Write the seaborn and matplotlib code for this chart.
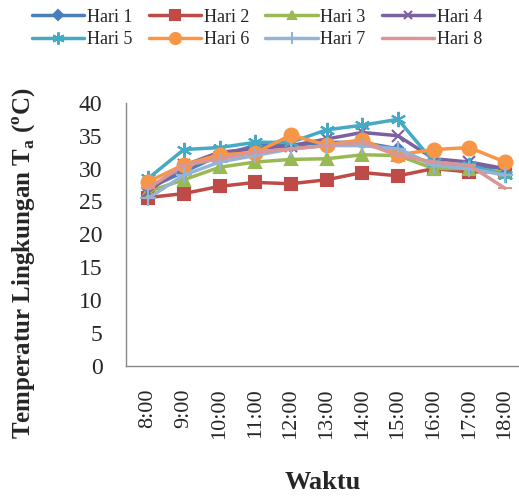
import matplotlib
matplotlib.use("Agg")
import matplotlib.pyplot as plt
import seaborn as sns
import pandas as pd

times = ["8:00", "9:00", "10:00", "11:00", "12:00", "13:00", "14:00", "15:00", "16:00", "17:00", "18:00"]
hari1 = [27.0, 29.5, 32.0, 33.5, 33.5, 34.0, 34.0, 33.0, 30.5, 30.5, 30.0]
hari2 = [25.6, 26.2, 27.3, 27.9, 27.7, 28.3, 29.4, 28.9, 30.0, 29.5, 29.5]
hari3 = [26.5, 28.3, 30.2, 31.0, 31.4, 31.5, 32.1, 32.0, 30.0, 30.0, 29.5]
hari4 = [26.5, 30.5, 32.5, 33.0, 33.5, 34.5, 35.5, 35.0, 31.5, 31.0, 30.0]
hari5 = [28.5, 32.9, 33.2, 34.0, 34.0, 35.9, 36.6, 37.5, 31.0, 30.5, 29.0]
hari6 = [28.0, 30.6, 32.1, 32.4, 35.1, 33.6, 34.4, 32.1, 32.9, 33.2, 31.0]
hari7 = [25.5, 29.0, 31.0, 32.0, 33.0, 33.5, 33.5, 33.0, 30.5, 30.0, 29.0]
hari8 = [27.0, 30.5, 31.5, 32.5, 33.0, 33.5, 34.0, 32.0, 31.0, 30.5, 27.0]
series_names = ["Hari 1", "Hari 2", "Hari 3", "Hari 4", "Hari 5", "Hari 6", "Hari 7", "Hari 8"]
series_vals = [hari1, hari2, hari3, hari4, hari5, hari6, hari7, hari8]

colors = ["#4A7EBB", "#BE4B48", "#98B954", "#7D60A0", "#46AAC5", "#F79646", "#95B3D7", "#D99694"]
markers = ["D", "s", "^", "x", (6, 2, 0), "o", "+", "_"]
msizes = [6, 9, 8, 8, 11, 10, 11, 10]

rows = []
for name, vals in zip(series_names, series_vals):
    for i, v in enumerate(vals):
        rows.append({"Hari": name, "idx": i, "T": v})
df = pd.DataFrame(rows)

sns.set_style("white")
plt.rcParams["font.family"] = ["Liberation Serif", "DejaVu Serif"]

fig = plt.figure(figsize=(5.19, 4.97), dpi=100)
ax = fig.add_axes([0.243, 0.264, 0.757, 0.529])

for name, c, m, ms in zip(series_names, colors, markers, msizes):
    sub = df[df["Hari"] == name]
    sns.lineplot(data=sub, x="idx", y="T", ax=ax, color=c, marker=m, markersize=ms,
                 linewidth=2.5, markeredgecolor=c, markeredgewidth=1.5, label=name, legend=False)

ax.set_xlim(-0.616, 10.39)
ax.set_ylim(0, 40)
ax.set_yticks(range(0, 41, 5))
ax.set_xticks(range(len(times)))
ax.set_xticklabels(times, rotation=90, fontsize=16)
ax.tick_params(axis="y", labelsize=17, length=0, pad=17)
ax.tick_params(axis="x", length=0, pad=16)
for s in ["top", "right"]:
    ax.spines[s].set_visible(False)
for s in ["left", "bottom"]:
    ax.spines[s].set_color("#888888")
    ax.spines[s].set_linewidth(1.0)

ax.set_xlabel("Waktu", fontsize=19, fontweight="bold")
ax.xaxis.set_label_coords(0.50, -0.40)
ax.set_ylabel("Temperatur Lingkungan T$_\\mathregular{a}$ ($^\\mathregular{o}$C)", fontsize=18, fontweight="bold")
ax.yaxis.set_label_coords(-0.225, 0.39)

handles, labels = ax.get_legend_handles_labels()
order = [0, 4, 1, 5, 2, 6, 3, 7]
fig.legend([handles[i] for i in order], [labels[i] for i in order], loc="upper left",
           bbox_to_anchor=(0.03, 1.015), ncol=4, frameon=False,
           fontsize=13, handlelength=2.9, handletextpad=0.15, columnspacing=0.9, labelspacing=0.3,
           markerscale=0.8)

fig.savefig("out.png", dpi=100)
